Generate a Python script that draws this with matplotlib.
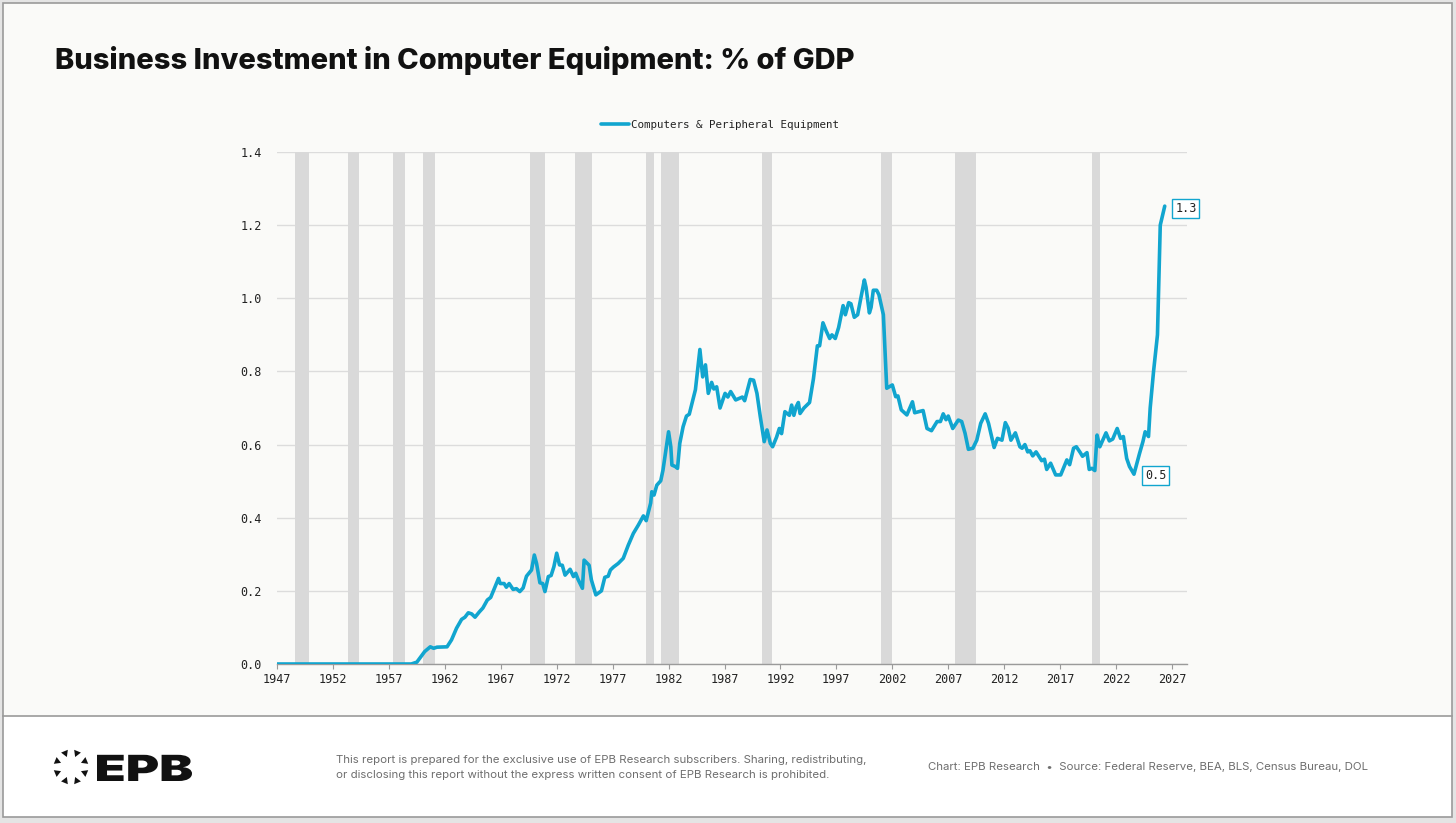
import matplotlib
matplotlib.use("Agg")
import matplotlib.pyplot as plt
from matplotlib.patches import Rectangle, RegularPolygon, PathPatch
from matplotlib.textpath import TextPath
from matplotlib.font_manager import FontProperties
from matplotlib.transforms import Affine2D
import numpy as np

# ---------------- data ----------------
years = [1947.0, 1959.0, 1959.5, 1960.2, 1960.7, 1961.0, 1961.3, 1962.2, 1962.6, 1963.05,
         1963.5, 1963.8, 1964.1, 1964.4, 1964.7, 1965.1, 1965.4, 1965.8, 1966.1, 1966.8,
         1966.95, 1967.3, 1967.5, 1967.75, 1968.1, 1968.4, 1968.7, 1969.0, 1969.3, 1969.75,
         1970.0, 1970.2, 1970.5, 1970.75, 1970.95, 1971.25, 1971.5, 1971.75, 1972.0, 1972.25,
         1972.5, 1972.75, 1973.2, 1973.5, 1973.7, 1973.9, 1974.3, 1974.45, 1974.9, 1975.1,
         1975.5, 1976.0, 1976.3, 1976.6, 1976.8, 1977.07, 1977.5, 1977.95, 1978.4, 1978.85,
         1979.3, 1979.75, 1980.0, 1980.4, 1980.5, 1980.7, 1980.95, 1981.3, 1981.5, 1981.8,
         1982.0, 1982.2, 1982.3, 1982.6, 1982.8, 1983.0, 1983.3, 1983.6, 1983.85, 1984.4,
         1984.8, 1985.05, 1985.3, 1985.55, 1985.85, 1986.05, 1986.3, 1986.6, 1987.05, 1987.3,
         1987.55, 1988.0, 1988.6, 1988.8, 1989.3, 1989.6, 1989.9, 1990.2, 1990.55, 1990.8,
         1991.1, 1991.3, 1991.65, 1991.9, 1992.1, 1992.4, 1992.8, 1993.0, 1993.2, 1993.4,
         1993.6, 1993.75, 1994.1, 1994.6, 1994.95, 1995.3, 1995.5, 1995.8, 1996.1, 1996.4,
         1996.6, 1996.9, 1997.2, 1997.6, 1997.8, 1998.1, 1998.3, 1998.6, 1998.9, 1999.5,
         1999.65, 1999.95, 2000.1, 2000.3, 2000.6, 2000.8, 2001.2, 2001.5, 2002.0, 2002.3,
         2002.5, 2002.8, 2003.3, 2003.8, 2004.0, 2004.75, 2005.1, 2005.5, 2006.0, 2006.3,
         2006.55, 2006.8, 2007.0, 2007.4, 2007.9, 2008.2, 2008.5, 2008.8, 2009.2, 2009.55,
         2009.9, 2010.3, 2010.6, 2011.1, 2011.4, 2011.8, 2012.1, 2012.35, 2012.6, 2013.0,
         2013.4, 2013.6, 2013.85, 2014.1, 2014.3, 2014.55, 2014.85, 2015.35, 2015.6, 2015.8,
         2016.15, 2016.6, 2017.05, 2017.6, 2017.85, 2018.2, 2018.45, 2018.8, 2019.0, 2019.4,
         2019.6, 2019.85, 2020.1, 2020.3, 2020.55, 2021.1, 2021.4, 2021.7, 2022.1, 2022.4,
         2022.65, 2022.95, 2023.2, 2023.6, 2024.1, 2024.4, 2024.6, 2024.9, 2025.05, 2025.35,
         2025.7, 2025.95, 2026.35]
values = [0.0, 0.0, 0.005, 0.034, 0.047, 0.043, 0.046, 0.047, 0.066, 0.098,
          0.122, 0.128, 0.140, 0.137, 0.128, 0.143, 0.153, 0.175, 0.182, 0.234,
          0.220, 0.220, 0.210, 0.220, 0.204, 0.206, 0.198, 0.208, 0.240, 0.257,
          0.298, 0.275, 0.222, 0.220, 0.198, 0.239, 0.242, 0.266, 0.303, 0.271,
          0.270, 0.243, 0.259, 0.239, 0.248, 0.232, 0.207, 0.284, 0.270, 0.230,
          0.189, 0.200, 0.237, 0.240, 0.257, 0.265, 0.275, 0.289, 0.325, 0.357,
          0.380, 0.405, 0.392, 0.440, 0.471, 0.462, 0.489, 0.501, 0.530, 0.594,
          0.635, 0.594, 0.544, 0.540, 0.535, 0.603, 0.649, 0.678, 0.683, 0.750,
          0.860, 0.785, 0.818, 0.740, 0.770, 0.752, 0.758, 0.700, 0.740, 0.730,
          0.745, 0.722, 0.730, 0.720, 0.778, 0.776, 0.740, 0.676, 0.608, 0.640,
          0.603, 0.594, 0.620, 0.644, 0.630, 0.690, 0.680, 0.708, 0.680, 0.703,
          0.715, 0.685, 0.700, 0.715, 0.780, 0.870, 0.870, 0.933, 0.910, 0.890,
          0.900, 0.890, 0.920, 0.980, 0.955, 0.988, 0.985, 0.948, 0.955, 1.050,
          1.030, 0.960, 0.975, 1.022, 1.022, 1.010, 0.955, 0.754, 0.763, 0.731,
          0.733, 0.695, 0.681, 0.717, 0.687, 0.693, 0.644, 0.638, 0.663, 0.663,
          0.684, 0.668, 0.678, 0.644, 0.667, 0.663, 0.631, 0.587, 0.590, 0.612,
          0.658, 0.684, 0.658, 0.592, 0.617, 0.612, 0.660, 0.645, 0.612, 0.632,
          0.594, 0.590, 0.600, 0.580, 0.583, 0.569, 0.580, 0.556, 0.560, 0.532,
          0.549, 0.517, 0.517, 0.558, 0.545, 0.590, 0.594, 0.578, 0.568, 0.578,
          0.532, 0.535, 0.529, 0.626, 0.594, 0.632, 0.610, 0.615, 0.644, 0.617,
          0.622, 0.562, 0.540, 0.519, 0.576, 0.608, 0.635, 0.622, 0.700, 0.800,
          0.900, 1.200, 1.252]

recession_starts = [1948.65, 1953.35, 1957.4, 1960.05, 1969.6, 1973.6, 1980.0, 1981.3, 1990.35, 2001.0, 2007.6, 2019.85]
recession_ends   = [1949.9, 1954.35, 1958.4, 1961.15, 1970.95, 1975.2, 1980.7, 1982.95, 1991.25, 2001.95, 2009.5, 2020.55]

x_ticks = list(range(1947, 2028, 5))
y_ticks = [0.0, 0.2, 0.4, 0.6, 0.8, 1.0, 1.2, 1.4]

title = "Business Investment in Computer Equipment: % of GDP"
series_name = "Computers & Peripheral Equipment"
end_label = "1.3"
min_label = "0.5"
min_label_after = 2021.0

# ---------------- style ----------------
W, H = 1456, 823
LINE = "#11a5cf"
MONO = "DejaVu Sans Mono"
SANS = ["Inter", "DejaVu Sans"]

fig = plt.figure(figsize=(W / 100, H / 100), dpi=100, facecolor="#e4e4e4")

# background canvas in pixel coordinates
bg = fig.add_axes([0, 0, 1, 1], zorder=0)
bg.set_xlim(0, W)
bg.set_ylim(H, 0)
bg.axis("off")
bg.add_patch(Rectangle((3, 3), 1449, 713, facecolor="#fafaf8", edgecolor="none"))
bg.add_patch(Rectangle((3, 716), 1449, 101, facecolor="#ffffff", edgecolor="none"))
bg.add_patch(Rectangle((3, 3), 1449, 814, facecolor="none", edgecolor="#9a9a9a", linewidth=1.2))
bg.plot([3, 1452], [716, 716], color="#9a9a9a", linewidth=1.2)

# title
bg.text(55, 60, title, fontsize=20.95, fontweight="heavy", family=SANS, color="#111111",
        ha="left", va="center")

# logo ring of triangles
cx, cy, r = 71, 767, 15
for k in range(8):
    ang = np.deg2rad(22.5 + 45 * k)
    px, py = cx + r * np.cos(ang), cy + r * np.sin(ang)
    bg.add_patch(RegularPolygon((px, py), numVertices=3, radius=4.2,
                                orientation=ang + np.pi / 2, facecolor="#111111",
                                edgecolor="none"))
tp = TextPath((0, 0), "EPB", size=36, prop=FontProperties(family=SANS, weight="black"))
ext = tp.get_extents()
sx = 95.0 / ext.width
tr = Affine2D().translate(-ext.x0, 0).scale(sx, -1).translate(97, 781) + bg.transData
bg.add_patch(PathPatch(tp, facecolor="#111111", edgecolor="none", transform=tr))

foot_col = "#6e6e6e"
bg.text(336, 760, "This report is prepared for the exclusive use of EPB Research subscribers. Sharing, redistributing,",
        fontsize=8.25, family=SANS, color=foot_col, ha="left", va="center")
bg.text(336, 775, "or disclosing this report without the express written consent of EPB Research is prohibited.",
        fontsize=8.25, family=SANS, color=foot_col, ha="left", va="center")
bg.text(928, 767, "Chart: EPB Research  \u2022  Source: Federal Reserve, BEA, BLS, Census Bureau, DOL",
        fontsize=8.25, family=SANS, color=foot_col, ha="left", va="center")

# ---------------- chart ----------------
ax = fig.add_axes([277 / W, 1 - 664 / H, (1187 - 277) / W, (664 - 152) / H], zorder=2)
ax.patch.set_alpha(0)
ax.set_xlim(1947, 2028.34)
ax.set_ylim(0, 1.4)

for s, e in zip(recession_starts, recession_ends):
    ax.axvspan(s, e, color="#d9d9d9", linewidth=0, zorder=1)

ax.set_yticks(y_ticks)
ax.set_yticklabels([f"{v:.1f}" for v in y_ticks])
ax.set_xticks(x_ticks)
ax.set_xticklabels([str(v) for v in x_ticks])
ax.grid(axis="y", color="#dcdcdc", linewidth=1.0, zorder=0)
ax.set_axisbelow(True)
for side in ["left", "right", "top"]:
    ax.spines[side].set_visible(False)
ax.spines["bottom"].set_color("#9a9a9a")
ax.spines["bottom"].set_linewidth(1.0)
ax.tick_params(axis="y", length=0, pad=11, labelsize=8.5, labelcolor="#222222")
ax.tick_params(axis="x", length=3.5, width=0.8, color="#9a9a9a", pad=3,
               labelsize=8.5, labelcolor="#222222")
for lab in ax.get_xticklabels() + ax.get_yticklabels():
    lab.set_family(MONO)

line, = ax.plot(years, values, color=LINE, linewidth=2.6, zorder=3,
                solid_joinstyle="round", solid_capstyle="round", label=series_name)

leg = ax.legend(loc="lower center", bbox_to_anchor=(0.487, 1.035), frameon=False,
                prop={"family": MONO, "size": 7.8}, handlelength=2.6, handletextpad=0.15,
                borderaxespad=0)
for t in leg.get_texts():
    t.set_color("#222222")

bbox = dict(boxstyle="square,pad=0.25", facecolor="white", edgecolor=LINE, linewidth=1.0)
ax.annotate(end_label, xy=(years[-1], values[-1]), xytext=(7.5, -1.5), textcoords="offset points",
            ha="left", va="center", fontsize=8.5, family=MONO, color="#222222", bbox=bbox,
            annotation_clip=False, zorder=5)
recent = [i for i, y in enumerate(years) if y >= min_label_after]
imin = min(recent, key=lambda i: values[i])
ax.annotate(min_label, xy=(years[imin], values[imin]), xytext=(8, -1), textcoords="offset points",
            ha="left", va="center", fontsize=8.5, family=MONO, color="#222222", bbox=bbox,
            annotation_clip=False, zorder=5)

fig.savefig("out.png", dpi=100, facecolor=fig.get_facecolor())
